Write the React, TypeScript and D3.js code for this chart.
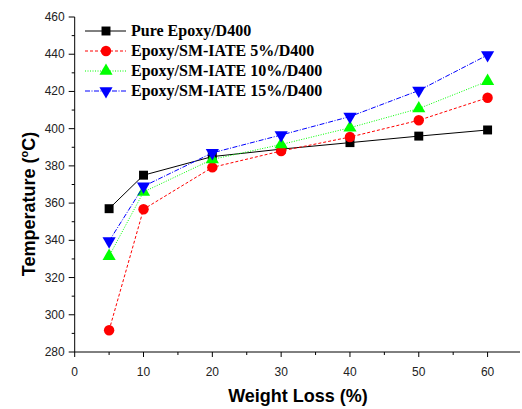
import React from "react";
import * as d3 from "d3";

const weightLoss = [5, 10, 20, 30, 40, 50, 60];
const pureEpoxy = [357, 375, 385, 389, 392.5, 396, 399.3];
const smIate5 = [291.7, 356.7, 379.2, 388, 395.5, 404.5, 416.6];
const smIate10 = [331.5, 366, 383.5, 391.5, 400.5, 410.8, 425.5];
const smIate15 = [339.6, 369, 387, 396.6, 406.5, 420.5, 439.6];
const seriesNames = [
  "Pure Epoxy/D400",
  "Epoxy/SM-IATE 5%/D400",
  "Epoxy/SM-IATE 10%/D400",
  "Epoxy/SM-IATE 15%/D400",
];
const xTicks = [0, 10, 20, 30, 40, 50, 60];
const yTicks = [280, 300, 320, 340, 360, 380, 400, 420, 440, 460];

const W = 522;
const H = 409;

export default function App() {
  const x = d3.scaleLinear().domain([0, 65]).range([74.7, 522]);
  const y = d3.scaleLinear().domain([280, 460]).range([352, 17]);

  const series = [
    { name: seriesNames[0], values: pureEpoxy, color: "#000000", dash: "", symbol: d3.symbolSquare, size: 80, rot: 0 },
    { name: seriesNames[1], values: smIate5, color: "#ff0000", dash: "3,2", symbol: d3.symbolCircle, size: 85, rot: 0 },
    { name: seriesNames[2], values: smIate10, color: "#00ff00", dash: "1,1.5", symbol: d3.symbolTriangle, size: 75, rot: 0 },
    { name: seriesNames[3], values: smIate15, color: "#0000ff", dash: "5,1.5,1,1.5", symbol: d3.symbolTriangle, size: 75, rot: 180 },
  ];

  const line = d3
    .line<number>()
    .x((_, i) => x(weightLoss[i]))
    .y((d) => y(d));

  const xMinor = d3.range(5, 65, 10);
  const yMinor = d3.range(290, 460, 20);
  const axisColor = "#000";
  const x0 = x(0);
  const yBase = y(280);

  return (
    <svg width={W} height={H} style={{ position: "absolute", left: 0, top: 0 }}>
      <rect width={W} height={H} fill="#fff" />
      {/* axes */}
      <line x1={x0} x2={520} y1={yBase} y2={yBase} stroke={axisColor} strokeWidth={1} />
      <line x1={x0} x2={x0} y1={y(460)} y2={yBase} stroke={axisColor} strokeWidth={1} />
      {xTicks.map((t) => (
        <g key={"xt" + t}>
          <line x1={x(t)} x2={x(t)} y1={yBase} y2={yBase + 5} stroke={axisColor} />
          <text x={x(t)} y={yBase + 23.5} textAnchor="middle" fontFamily="Arial, Liberation Sans, sans-serif" fontSize={12} fill="#222">
            {t}
          </text>
        </g>
      ))}
      {xMinor.map((t) => (
        <line key={"xm" + t} x1={x(t)} x2={x(t)} y1={yBase} y2={yBase + 3} stroke={axisColor} />
      ))}
      {yTicks.map((t) => (
        <g key={"yt" + t}>
          <line x1={x0 - 6} x2={x0} y1={y(t)} y2={y(t)} stroke={axisColor} />
          <text x={x0 - 10} y={y(t) + 4} textAnchor="end" fontFamily="Arial, Liberation Sans, sans-serif" fontSize={12} fill="#222">
            {t}
          </text>
        </g>
      ))}
      {yMinor.map((t) => (
        <line key={"ym" + t} x1={x0 - 3} x2={x0} y1={y(t)} y2={y(t)} stroke={axisColor} />
      ))}

      {/* axis titles */}
      <text x={298} y={402} textAnchor="middle" fontFamily="Arial, Liberation Sans, sans-serif" fontWeight="bold" fontSize={18} fill="#000">
        Weight Loss (%)
      </text>
      <text
        transform="translate(35,204) rotate(-90)"
        textAnchor="middle"
        fontFamily="Arial, Liberation Sans, sans-serif"
        fontWeight="bold"
        fontSize={18}
        fill="#000"
      >
        Temperature (
        <tspan dy={-7} fontSize={11}>o</tspan>
        <tspan dy={7}>C)</tspan>
      </text>

      {/* series */}
      {series.map((s) => (
        <g key={s.name}>
          <path d={line(s.values) || ""} fill="none" stroke={s.color} strokeWidth={1} strokeDasharray={s.dash} />
          {s.values.map((v, i) => (
            <path
              key={i}
              d={d3.symbol().type(s.symbol).size(s.size)() || ""}
              transform={`translate(${x(weightLoss[i])},${y(v)}) rotate(${s.rot})`}
              fill={s.color}
            />
          ))}
        </g>
      ))}

      {/* legend */}
      {series.map((s, i) => {
        const ly = 31 + i * 20;
        return (
          <g key={"lg" + i}>
            <line x1={85} x2={126} y1={ly} y2={ly} stroke={s.color} strokeWidth={1} strokeDasharray={s.dash} />
            <path d={d3.symbol().type(s.symbol).size(s.size)() || ""} transform={`translate(106,${ly}) rotate(${s.rot})`} fill={s.color} />
            <text x={131} y={ly + 5} fontFamily="Times New Roman, Liberation Serif, serif" fontWeight="bold" fontSize={16} fill="#000">
              {s.name}
            </text>
          </g>
        );
      })}
    </svg>
  );
}
